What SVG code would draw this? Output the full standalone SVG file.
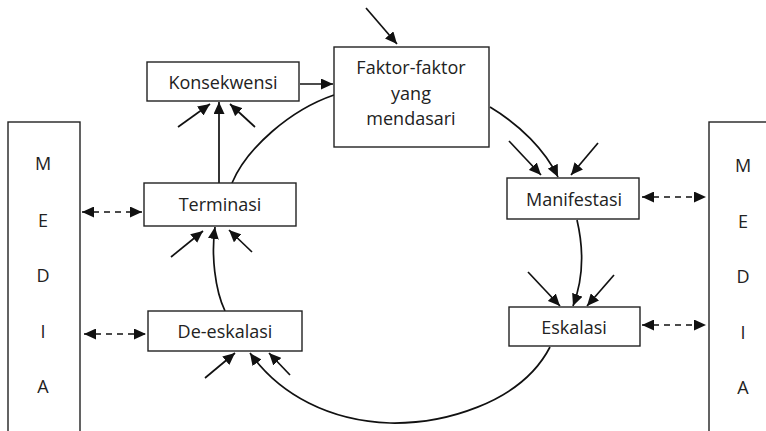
<svg xmlns="http://www.w3.org/2000/svg" width="766" height="431" viewBox="0 0 766 431">
  <style>
    .box { fill: #fff; stroke: #222; stroke-width: 1.4; }
    .lbl { font-family: "Open Sans", "Liberation Sans", sans-serif; font-size: 18px; fill: #222; text-anchor: middle; }
    .ln { fill: none; stroke: #111; stroke-width: 1.7; }
    .arr { marker-end: url(#head); }
    .dash { stroke-dasharray: 6 5; marker-start: url(#head2); marker-end: url(#head2); }
  </style>
  <defs>
    <marker id="head" markerUnits="userSpaceOnUse" markerWidth="13" markerHeight="11" refX="12" refY="5.5" orient="auto">
      <path d="M0,0 L12,5.5 L0,11 z" fill="#111"/>
    </marker>
    <marker id="head2" markerUnits="userSpaceOnUse" markerWidth="13" markerHeight="11" refX="12" refY="5.5" orient="auto-start-reverse">
      <path d="M0,0 L12,5.5 L0,11 z" fill="#111"/>
    </marker>
  </defs>

  <rect width="766" height="431" fill="#fff"/>

  <!-- connectors -->
  <g id="connectors">
    <path class="ln arr" d="M300,84 L333,84"/>
    <path class="ln arr" d="M366,8 L397,44"/>
    <path class="ln" d="M334,95 C290,110 247,148 232,183"/>
    <path class="ln arr" d="M490,107 C520,125 545,150 558,177"/>
    <path class="ln arr" d="M509,141 L541,175"/>
    <path class="ln arr" d="M598,143 L571,175"/>
    <path class="ln arr" d="M577,220 C584,250 583,280 573,306"/>
    <path class="ln arr" d="M528,272 L560,306"/>
    <path class="ln arr" d="M614,275 L587,306"/>
    <path class="ln arr" d="M550,347 C520,405 440,424 390,423 C330,421 280,395 250,353"/>
    <path class="ln arr" d="M205,378 L235,353"/>
    <path class="ln arr" d="M290,375 L269,353"/>
    <path class="ln arr" d="M225,311 C215,290 211,255 215,227"/>
    <path class="ln arr" d="M171,257 L203,231"/>
    <path class="ln arr" d="M252,252 L229,230"/>
    <path class="ln arr" d="M219,183 L219,102"/>
    <path class="ln arr" d="M178,127 L210,104"/>
    <path class="ln arr" d="M255,127 L230,104"/>
    <path class="ln dash" d="M82,212 L142,212"/>
    <path class="ln dash" d="M84,334 L146,334"/>
    <path class="ln dash" d="M642,197 L706,197"/>
    <path class="ln dash" d="M642,325 L706,325"/>
  </g>

  <!-- media columns -->
  <g id="media-left">
    <rect class="box" x="8" y="122" width="72" height="330"/>
    <text class="lbl" x="43" y="170">M</text>
    <text class="lbl" x="43" y="227">E</text>
    <text class="lbl" x="43" y="282">D</text>
    <text class="lbl" x="43" y="338">I</text>
    <text class="lbl" x="43" y="393">A</text>
  </g>
  <g id="media-right">
    <rect class="box" x="709" y="122" width="80" height="330"/>
    <text class="lbl" x="743" y="172">M</text>
    <text class="lbl" x="743" y="228">E</text>
    <text class="lbl" x="743" y="283">D</text>
    <text class="lbl" x="743" y="339">I</text>
    <text class="lbl" x="743" y="394">A</text>
  </g>

  <!-- stages -->
  <g id="konsekwensi">
    <rect class="box" x="147" y="62" width="152" height="39"/>
    <text class="lbl" x="223" y="89">Konsekwensi</text>
  </g>
  <g id="faktor">
    <rect class="box" x="334" y="47" width="155" height="100"/>
    <text class="lbl" x="411" y="74">Faktor-faktor</text>
    <text class="lbl" x="411" y="100">yang</text>
    <text class="lbl" x="411" y="125">mendasari</text>
  </g>
  <g id="terminasi">
    <rect class="box" x="144" y="183" width="152" height="43"/>
    <text class="lbl" x="220" y="211">Terminasi</text>
  </g>
  <g id="manifestasi">
    <rect class="box" x="507" y="178" width="132" height="41"/>
    <text class="lbl" x="574" y="206">Manifestasi</text>
  </g>
  <g id="eskalasi">
    <rect class="box" x="509" y="307" width="131" height="39"/>
    <text class="lbl" x="574" y="334">Eskalasi</text>
  </g>
  <g id="de-eskalasi">
    <rect class="box" x="148" y="311" width="154" height="40"/>
    <text class="lbl" x="225" y="338">De-eskalasi</text>
  </g>
</svg>
